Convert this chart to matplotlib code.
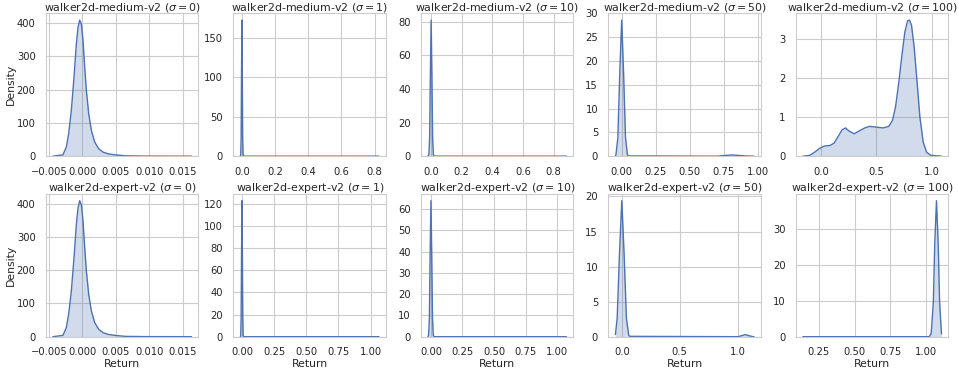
"""Return density per noise level sigma, walker2d medium/expert (2x5 KDE grid)."""
import matplotlib
matplotlib.use("Agg")
import matplotlib.pyplot as plt
from matplotlib.ticker import MultipleLocator
import seaborn as sns

sns.set_theme(style="whitegrid")
plt.rcParams["font.family"] = ["DejaVu Sans"]

BLUE = "#4c72b0"

datasets = ["walker2d-medium-v2", "walker2d-expert-v2"]
sigmas = [0, 1, 10, 50, 100]

# tick spacing seen in the figure (x step, y step) per panel
x_steps = [[0.005, 0.2, 0.2, 0.25, 0.5], [0.005, 0.25, 0.25, 0.5, 0.25]]
y_steps = [[100, 50, 20, 5, 1], [100, 20, 10, 5, 10]]

# density curves: (return, density) per panel
# sigma = 0 (same shape for both datasets)
s0_x = [-0.0044, -0.0029, -0.0024, -0.00205, -0.00165, -0.00125, -0.0009, -0.00065, -0.0004,
        -0.00015, 0.0001, 0.00035, 0.0006, 0.00095, 0.00135, 0.00185, 0.00245, 0.0031, 0.00385,
        0.00485, 0.0064, 0.009, 0.0125, 0.0163]
s0_y = [0, 4, 27, 67, 137, 237, 337, 387, 409, 397, 347, 267, 197, 127, 77, 42, 22, 12, 7,
        4, 1, 0.3, 0.1, 0]

med1_x = [-0.009, -0.007, -0.0046, -0.0023, 0.0, 0.0023, 0.0046, 0.007, 0.012, 0.827]
med1_y = [0, 2, 23, 104, 172, 104, 23, 2, 0, 0]

med10_x = [-0.019, -0.0127, -0.0078, -0.0029, 0.002, 0.0069, 0.0118, 0.0167, 0.022, 0.884]
med10_y = [0, 0.9, 11, 49, 81, 49, 11, 0.9, 0, 0]

med50_x = [-0.046, -0.042, -0.028, -0.014, 0.0, 0.014, 0.028, 0.042, 0.05, 0.7, 0.76, 0.81,
           0.86, 0.92, 0.97]
med50_y = [0.1, 0.3, 3.9, 17.4, 28.6, 17.4, 3.9, 0.3, 0.05, 0, 0.15, 0.25, 0.15, 0.02, 0]

med100_x = [-0.167, -0.106, -0.061, -0.015, 0.030, 0.076, 0.115, 0.152, 0.188, 0.218, 0.252,
            0.297, 0.342, 0.394, 0.439, 0.5, 0.561, 0.612, 0.645, 0.673, 0.703, 0.733, 0.758,
            0.782, 0.8, 0.818, 0.842, 0.867, 0.894, 0.924, 0.955, 0.994, 1.09]
med100_y = [0, 0.02, 0.10, 0.20, 0.26, 0.27, 0.33, 0.50, 0.67, 0.72, 0.64, 0.57, 0.64, 0.72,
            0.76, 0.74, 0.72, 0.76, 0.91, 1.25, 1.89, 2.62, 3.17, 3.45, 3.47, 3.34, 2.79, 1.94,
            1.0, 0.36, 0.10, 0.02, 0]

exp1_x = [-0.012, -0.0096, -0.0064, -0.0032, 0.0, 0.0032, 0.0064, 0.0096, 0.014, 1.066]
exp1_y = [0, 1.4, 17, 75, 123, 75, 17, 1.4, 0, 0]

exp10_x = [-0.024, -0.0186, -0.0124, -0.0062, 0.0, 0.0062, 0.0124, 0.0186, 0.026, 1.075]
exp10_y = [0, 0.7, 8.7, 39, 64, 39, 8.7, 0.7, 0, 0]

exp50_x = [-0.055, -0.04, -0.02, 0.0, 0.02, 0.04, 0.06, 0.07, 1.0, 1.035, 1.065, 1.095, 1.13, 1.14]
exp50_y = [0.3, 2.6, 11.8, 19.4, 11.8, 2.6, 0.2, 0.05, 0, 0.15, 0.3, 0.15, 0.01, 0]

exp100_x = [0.14, 1.02, 1.035, 1.05, 1.06, 1.072, 1.084, 1.094, 1.107]
exp100_y = [0, 0, 0.8, 9.5, 26, 38, 26, 9.5, 0.8]

curves = [
    [(s0_x, s0_y), (med1_x, med1_y), (med10_x, med10_y), (med50_x, med50_y), (med100_x, med100_y)],
    [(s0_x, s0_y), (exp1_x, exp1_y), (exp10_x, exp10_y), (exp50_x, exp50_y), (exp100_x, exp100_y)],
]

fig, axes = plt.subplots(2, 5, figsize=(9.58, 3.70), dpi=100)
fig.subplots_adjust(left=0.048, right=0.99, bottom=0.09, top=0.964, wspace=0.23, hspace=0.264)

for r, name in enumerate(datasets):
    for c, sig in enumerate(sigmas):
        ax = axes[r, c]
        x, y = curves[r][c]
        ax.fill_between(x, y, 0, color=BLUE, alpha=0.25, lw=0)
        ax.plot(x, y, color=BLUE, lw=1.0)
        ax.set_ylim(bottom=0)
        ax.xaxis.set_major_locator(MultipleLocator(x_steps[r][c]))
        ax.yaxis.set_major_locator(MultipleLocator(y_steps[r][c]))
        ax.set_title(rf"{name} ($\sigma = {sig}$)", fontsize=7.9, pad=2)
        ax.tick_params(labelsize=7.2, pad=1.5)
        ax.grid(color="#cccccc", lw=0.8)
        for sp in ax.spines.values():
            sp.set_color("#cccccc")
            sp.set_linewidth(0.8)
        if c == 0:
            ax.set_ylabel("Density", fontsize=7.8, labelpad=0.5)
        if r == 1:
            ax.set_xlabel("Return", fontsize=7.8, labelpad=1)

fig.savefig("out.png", dpi=100)
